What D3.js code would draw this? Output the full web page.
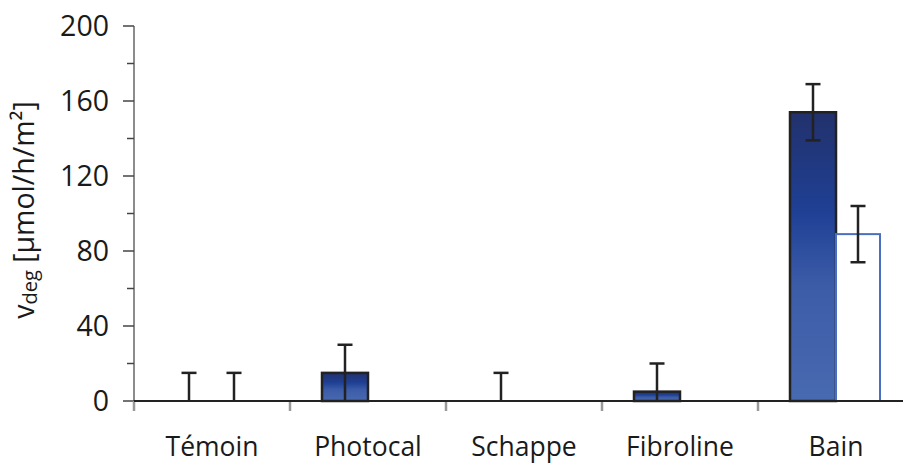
<!DOCTYPE html>
<html>
<head>
<meta charset="utf-8">
<script src="https://cdn.jsdelivr.net/npm/d3@7"></script>
<style>
html,body{margin:0;padding:0;background:#fff;}
svg{display:block;}
text{font-family:"Open Sans",sans-serif;fill:#1a1a1a;}
</style>
</head>
<body>
<svg id="chart" width="903" height="465"></svg>
<script>
const categories = ["Témoin", "Photocal", "Schappe", "Fibroline", "Bain"];
const series1 = [0, 15, 0, 5, 154];
const error1 = [15, 15, 15, 15, 15];
const series2 = [0, 0, 0, 0, 89];
const error2 = [15, null, null, null, 15];
const yTicks = [0, 40, 80, 120, 160, 200];
const yMinorTicks = [20, 60, 100, 140, 180];

const svg = d3.select("#chart");
const x = d3.scaleBand().domain(categories).range([134, 914]).paddingInner(0).paddingOuter(0);
const y = d3.scaleLinear().domain([0, 200]).range([401, 26]);
const barW = 46;

const defs = svg.append("defs");
const grad = defs.append("linearGradient").attr("id", "g1").attr("x1", 0).attr("y1", 0).attr("x2", 0).attr("y2", 1);
grad.append("stop").attr("offset", "0%").attr("stop-color", "#22316c");
grad.append("stop").attr("offset", "35%").attr("stop-color", "#1f4095");
grad.append("stop").attr("offset", "60%").attr("stop-color", "#3c5ca8");
grad.append("stop").attr("offset", "100%").attr("stop-color", "#486ab0");

// y axis
const yAxis = svg.append("g").attr("transform", "translate(134,0)");
yAxis.append("line").attr("x1", 0).attr("x2", 0).attr("y1", y(200)).attr("y2", 410)
  .attr("stroke", "#666").attr("stroke-width", 1.5);
yAxis.selectAll("line.maj").data(yTicks).enter().append("line").attr("class", "maj")
  .attr("x1", -11).attr("x2", 0).attr("y1", d => y(d)).attr("y2", d => y(d))
  .attr("stroke", "#444").attr("stroke-width", 1.5);
yAxis.selectAll("line.min").data(yMinorTicks).enter().append("line").attr("class", "min")
  .attr("x1", -7).attr("x2", 0).attr("y1", d => y(d)).attr("y2", d => y(d))
  .attr("stroke", "#444").attr("stroke-width", 1.5);
yAxis.selectAll("text").data(yTicks).enter().append("text")
  .attr("x", -25).attr("y", d => y(d)).attr("dy", "0.36em")
  .attr("text-anchor", "end").attr("font-size", 28.5).text(d => d);

// x axis ticks
svg.selectAll("line.xt").data(categories).enter().append("line").attr("class", "xt")
  .attr("x1", d => x(d)).attr("x2", d => x(d)).attr("y1", 401).attr("y2", 411)
  .attr("stroke", "#999").attr("stroke-width", 2.5);

// bars series 1
svg.selectAll("rect.s1").data(categories.map((c, i) => ({c, v: series1[i]})).filter(d => d.v > 0))
  .enter().append("rect").attr("class", "s1")
  .attr("x", d => x(d.c) + x.bandwidth() / 2 - barW)
  .attr("width", barW)
  .attr("y", d => y(d.v)).attr("height", d => y(0) - y(d.v))
  .attr("fill", "url(#g1)").attr("stroke", "#222").attr("stroke-width", 2.5);

// bars series 2
svg.selectAll("rect.s2").data(categories.map((c, i) => ({c, v: series2[i]})).filter(d => d.v > 0))
  .enter().append("rect").attr("class", "s2")
  .attr("x", d => x(d.c) + x.bandwidth() / 2)
  .attr("width", barW - 2)
  .attr("y", d => y(d.v)).attr("height", d => y(0) - y(d.v))
  .attr("fill", "#fff").attr("stroke", "#4a6fc0").attr("stroke-width", 2);

// x axis line
svg.append("line").attr("x1", 134).attr("x2", 903).attr("y1", 401).attr("y2", 401)
  .attr("stroke", "#222").attr("stroke-width", 2);

// error bars
function errData(vals, errs, off) {
  return categories.map((c, i) => ({c, v: vals[i], e: errs[i], off})).filter(d => d.e != null);
}
const errs = errData(series1, error1, -barW / 2).concat(errData(series2, error2, barW / 2 - 1));
const eg = svg.append("g").attr("stroke", "#222").attr("stroke-width", 2.5);
errs.forEach(d => {
  const cx = x(d.c) + x.bandwidth() / 2 + d.off;
  const lo = Math.max(0, d.v - d.e), hi = d.v + d.e;
  eg.append("line").attr("x1", cx).attr("x2", cx).attr("y1", y(lo)).attr("y2", y(hi));
  eg.append("line").attr("x1", cx - 7.5).attr("x2", cx + 7.5).attr("y1", y(hi)).attr("y2", y(hi));
  if (lo > 0) eg.append("line").attr("x1", cx - 7.5).attr("x2", cx + 7.5).attr("y1", y(lo)).attr("y2", y(lo));
});

// x labels
svg.selectAll("text.xl").data(categories).enter().append("text").attr("class", "xl")
  .attr("x", d => x(d) + x.bandwidth() / 2).attr("y", 456)
  .attr("text-anchor", "middle").attr("font-size", 26.5).text(d => d);

// y title
const t = svg.append("text").attr("transform", "translate(34,210) rotate(-90)")
  .attr("text-anchor", "middle").attr("font-size", 28.5);
t.append("tspan").text("v");
t.append("tspan").attr("font-size", 20).attr("dy", 3).text("deg");
t.append("tspan").attr("dy", -3).text(" [µmol/h/m²]");
</script>
</body>
</html>
